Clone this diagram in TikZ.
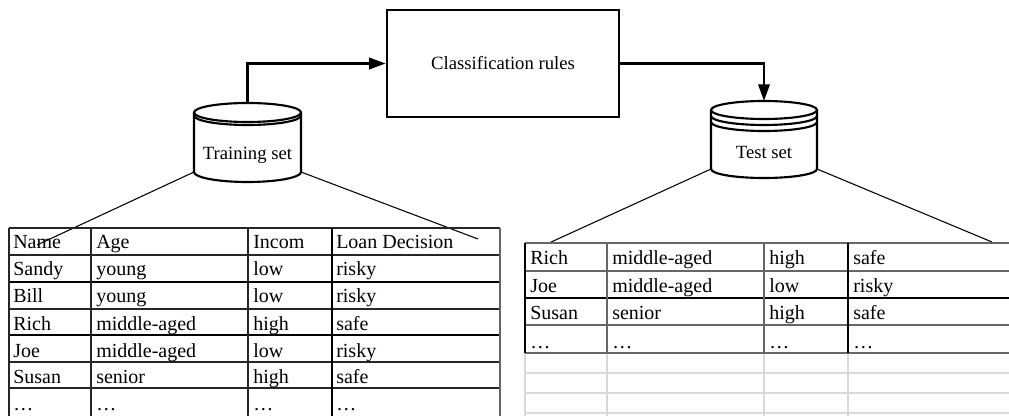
\documentclass[tikz,border=0pt]{standalone}
\usepackage{fontspec}
\setmainfont{Liberation Serif}
\usetikzlibrary{arrows.meta}
\begin{document}
\begin{tikzpicture}[x=0.75pt,y=-0.75pt,
  flow/.style={line width=2pt,-{Triangle[length=12.5pt,width=8.5pt]}},
  cyl/.style={line width=1.6pt, fill=white},
  spoke/.style={line width=0.8pt},
  cell/.style={anchor=base west, inner sep=0pt, font=\fontsize{15}{17}\selectfont},
  lbl/.style={font=\fontsize{14}{16}\selectfont, inner sep=0pt},
  tline/.style={line width=0.8pt, black!85},
  tthick/.style={line width=1.4pt, black},
  tgrey/.style={line width=0.9pt, black!60},
  tlight/.style={line width=0.8pt, black!15},
]
\useasboundingbox (0,0) rectangle (1009,416);
\clip (0,0) rectangle (1009,416);

% classification rules box
\node[draw, line width=1.9pt, minimum width=174pt, minimum height=80pt, inner sep=0pt,
      font=\fontsize{14}{16}\selectfont] (rules) at (503,63.5) {Classification rules};

% training set cylinder
\coordinate (trainTop) at (247.5,103);
\coordinate (trainBL) at (194,172);
\coordinate (trainBR) at (301,172);
\coordinate (tl1) at (37,245);
\coordinate (tl2) at (478,239);
\draw[spoke] (trainBL) -- (tl1);
\draw[spoke] (trainBR) -- (tl2);
\draw[cyl] (194,112.5) -- (trainBL) arc[start angle=180,end angle=0,x radius=53.5,y radius=10] -- (301,112.5);
\draw[cyl] (247.5,112.5) ellipse[x radius=53.5,y radius=9.5];
\draw[cyl, fill=none] (194,115.5) arc[start angle=180,end angle=0,x radius=53.5,y radius=9.5];
\node[lbl] (trainlabel) at (247.5,155) {Training set};

% test set cylinder
\coordinate (testTop) at (764,101);
\coordinate (testBL) at (711,169);
\coordinate (testBR) at (817,169);
\coordinate (tr1) at (549,243);
\coordinate (tr2) at (992,242);
\draw[spoke] (testBL) -- (tr1);
\draw[spoke] (testBR) -- (tr2);
\draw[cyl] (711,110) -- (testBL) arc[start angle=180,end angle=0,x radius=53,y radius=9] -- (817,110);
\draw[cyl] (764,110) ellipse[x radius=53,y radius=9];
\draw[cyl, fill=none] (711,116) arc[start angle=180,end angle=0,x radius=53,y radius=9];
\draw[cyl, fill=none] (711,122) arc[start angle=180,end angle=0,x radius=53,y radius=9];
\node[lbl] (testlabel) at (764,152) {Test set};

% arrows
\draw[flow] (trainTop) |- (rules.west);
\draw[flow] (rules.east) -| (testTop);

% left table (training data)
\foreach \y in {228,255,309,362,388} \draw[tline] (9,\y) -- (500,\y);
\foreach \y in {282,335} \draw[tthick] (9,\y) -- (500,\y);
\foreach \x in {9,91,248} \draw[tline] (\x,228) -- (\x,420);
\draw[tthick] (332,228) -- (332,420);
\draw[tgrey] (500,228) -- (500,420);
\foreach \y/\a/\b/\c/\d [count=\r] in {
  249/Name/Age/Incom/Loan Decision,
  276/Sandy/young/low/risky,
  303/Bill/young/low/risky,
  330/Rich/middle-aged/high/safe,
  357/Joe/middle-aged/low/risky,
  383/Susan/senior/high/safe,
  410/…/…/…/…}{
  \node[cell] (L\r a) at (13,\y) {\a};
  \node[cell] (L\r b) at (96,\y) {\b};
  \node[cell] (L\r c) at (253,\y) {\c};
  \node[cell] (L\r d) at (336,\y) {\d};
}

% right table (test data)
\foreach \y in {373,393,413} \draw[tlight] (525,\y) -- (1009,\y);
\foreach \x in {525,607,764,848} \draw[tlight] (\x,353) -- (\x,420);
\foreach \y in {243,271,325,353} \draw[tgrey] (525,\y) -- (1009,\y);
\draw[tthick] (525,298) -- (1009,298);
\draw[tthick] (525,243) -- (525,353);
\draw[tgrey] (607,243) -- (607,353);
\draw[tgrey] (764,243) -- (764,353);
\draw[tthick] (848,243) -- (848,353);
\foreach \y/\a/\b/\c/\d [count=\r] in {
  265/Rich/middle-aged/high/safe,
  292.5/Joe/middle-aged/low/risky,
  320/Susan/senior/high/safe,
  348/…/…/…/…}{
  \node[cell] (R\r a) at (530,\y) {\a};
  \node[cell] (R\r b) at (612,\y) {\b};
  \node[cell] (R\r c) at (769,\y) {\c};
  \node[cell] (R\r d) at (853,\y) {\d};
}
\end{tikzpicture}
\end{document}
